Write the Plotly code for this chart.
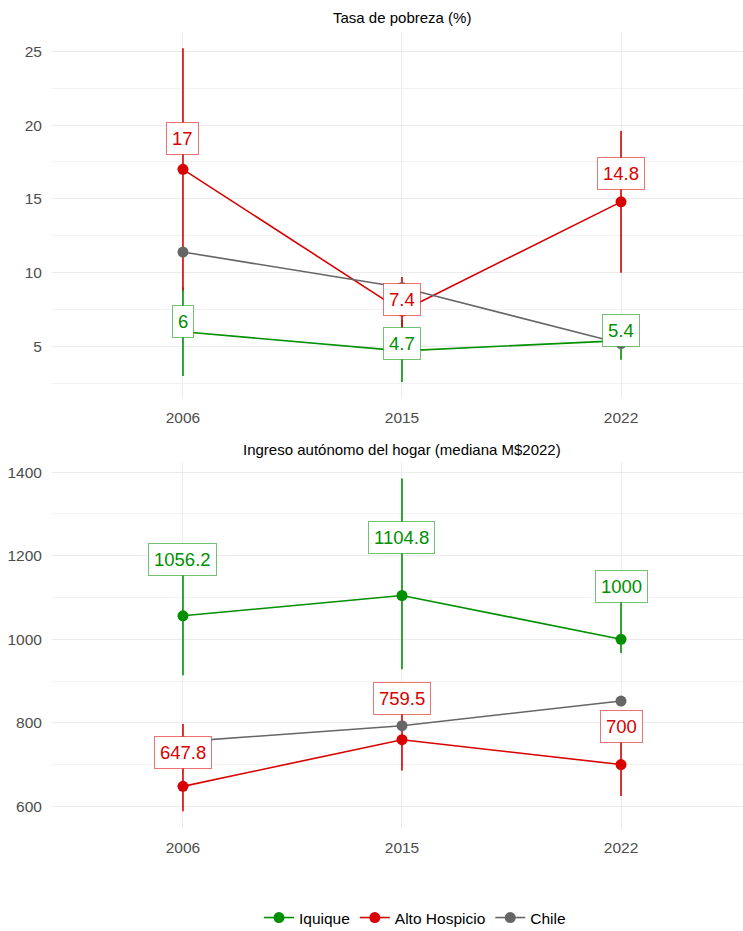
import plotly.graph_objects as go

years = ["2006", "2015", "2022"]
series = ["Iquique", "Alto Hospicio", "Chile"]
colors = {"Iquique": "#009000", "Alto Hospicio": "#D80000", "Chile": "#666666"}
border_colors = {"Iquique": "rgba(0,144,0,0.55)", "Alto Hospicio": "rgba(216,0,0,0.55)"}

# Poverty rate (%)
pov_iquique = [6.0, 4.7, 5.4]
pov_iquique_lo = [3.0, 2.6, 4.1]
pov_iquique_hi = [9.0, 6.8, 6.6]
pov_alto = [17.0, 7.4, 14.8]
pov_alto_lo = [8.8, 5.3, 10.0]
pov_alto_hi = [25.2, 9.7, 19.6]
pov_chile = [11.4, 9.0, 5.2]
pov_chile_lo = [11.2, 8.8, 5.0]
pov_chile_hi = [11.6, 9.3, 5.4]

# Household autonomous income (median M$2022)
inc_iquique = [1056.2, 1104.8, 1000.0]
inc_iquique_lo = [914, 928, 967]
inc_iquique_hi = [1200, 1385, 1100]
inc_alto = [647.8, 759.5, 700.0]
inc_alto_lo = [588, 686, 625]
inc_alto_hi = [797, 840, 775]
inc_chile = [755, 793, 852]
inc_chile_lo = [748, 787, 846]
inc_chile_hi = [762, 799, 858]

pov = {"Iquique": (pov_iquique, pov_iquique_lo, pov_iquique_hi),
       "Alto Hospicio": (pov_alto, pov_alto_lo, pov_alto_hi),
       "Chile": (pov_chile, pov_chile_lo, pov_chile_hi)}
inc = {"Iquique": (inc_iquique, inc_iquique_lo, inc_iquique_hi),
       "Alto Hospicio": (inc_alto, inc_alto_lo, inc_alto_hi),
       "Chile": (inc_chile, inc_chile_lo, inc_chile_hi)}

# label pixel shifts (style only)
pov_shift = {"Iquique": [10, 7, 10], "Alto Hospicio": [31, 12, 28]}
inc_shift = {"Iquique": [56, 58, 53], "Alto Hospicio": [34, 41, 38]}

FONT = "Liberation Sans, Arial, sans-serif"
fig = go.Figure()

def add_panel(data, xa, ya, showlegend):
    for s in series:
        v, lo, hi = data[s]
        fig.add_trace(go.Scatter(
            x=years, y=v, mode="lines+markers", name=s, legendgroup=s,
            showlegend=showlegend, xaxis=xa, yaxis=ya,
            line=dict(color=colors[s], width=1.6),
            marker=dict(color=colors[s], size=11),
            error_y=dict(type="data", symmetric=False,
                         array=[h - m for h, m in zip(hi, v)],
                         arrayminus=[m - l for m, l in zip(v, lo)],
                         color=colors[s], thickness=1.6, width=0),
        ))

add_panel(pov, "x", "y", True)
add_panel(inc, "x2", "y2", False)

annotations = []
def add_labels(data, shifts, xref, yref, fmt):
    for s, sh in shifts.items():
        v = data[s][0]
        for i, (val, dy) in enumerate(zip(v, sh)):
            annotations.append(dict(
                x=i, y=val, xref=xref, yref=yref, yshift=dy,
                text=fmt(val), showarrow=False,
                font=dict(size=18.5, color=colors[s], family=FONT),
                bgcolor="white", bordercolor=border_colors[s],
                borderwidth=1, borderpad=5))

def fmt(v):
    return ("%g" % round(v, 1))

add_labels(pov, pov_shift, "x", "y", fmt)
add_labels(inc, inc_shift, "x2", "y2", fmt)

annotations.append(dict(text="Tasa de pobreza (%)", x=0.5065, y=0.9807,
                        xref="paper", yref="paper", showarrow=False,
                        font=dict(size=15, color="black", family=FONT),
                        xanchor="center", yanchor="middle"))
annotations.append(dict(text="Ingreso autónomo del hogar (mediana M$2022)", x=0.5065, y=0.5177,
                        xref="paper", yref="paper", showarrow=False,
                        font=dict(size=15, color="black", family=FONT),
                        xanchor="center", yanchor="middle"))

xcommon = dict(type="category", range=[-0.598, 2.557], showgrid=True, automargin=False,
               gridcolor="#EBEBEB", gridwidth=1.1, zeroline=False, showline=False,
               ticks="outside", ticklen=5, tickcolor="rgba(0,0,0,0)",
               tickfont=dict(size=15.5, color="#4D4D4D", family=FONT))
ycommon = dict(showgrid=True, gridcolor="#EBEBEB", gridwidth=1.1, zeroline=False,
               automargin=False,
               showline=False, ticks="outside", ticklen=6, tickcolor="rgba(0,0,0,0)",
               tickfont=dict(size=15.5, color="#4D4D4D", family=FONT))

fig.update_layout(
    width=743, height=931,
    margin=dict(l=52, r=0, t=0, b=0, autoexpand=False),
    paper_bgcolor="white", plot_bgcolor="white",
    font=dict(family=FONT),
    xaxis=dict(**xcommon, anchor="y", domain=[0, 1]),
    xaxis2=dict(**xcommon, anchor="y2", domain=[0, 1]),
    yaxis=dict(**ycommon, domain=[0.5725, 0.966], range=[1.51, 26.33],
               tick0=0, dtick=5,
               minor=dict(showgrid=True, tick0=0, dtick=2.5, gridcolor="#F2F2F2", gridwidth=0.6)),
    yaxis2=dict(**ycommon, domain=[0.1106, 0.504], range=[548, 1425],
                tick0=0, dtick=200,
                minor=dict(showgrid=True, tick0=0, dtick=100, gridcolor="#F2F2F2", gridwidth=0.6)),
    legend=dict(orientation="h", x=0.5585, xanchor="center", xref="container",
                y=0.014, yanchor="middle", yref="container",
                font=dict(size=15.5, color="black", family=FONT), itemwidth=30,
                bgcolor="rgba(0,0,0,0)"),
    annotations=annotations,
)

fig.write_html("out.html", config={"displayModeBar": False},
               post_script="document.body.style.margin='0';document.body.style.padding='0';document.body.style.overflow='hidden';")
